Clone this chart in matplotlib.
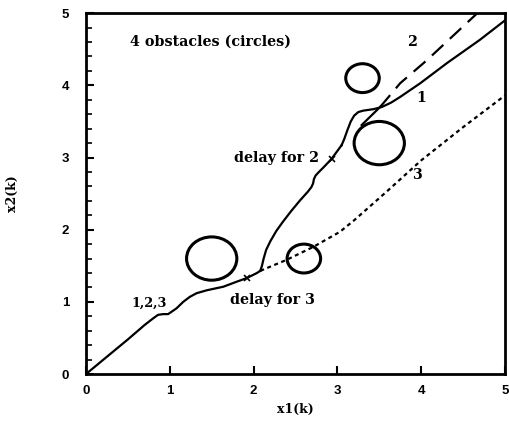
import matplotlib
matplotlib.use("Agg")
import matplotlib.pyplot as plt
import numpy as np
from matplotlib.patches import Circle

# common path 1,2,3
common_x = [0.0, 0.50, 0.70, 0.80, 0.86, 0.92, 0.98, 1.08, 1.16, 1.24, 1.32, 1.44,
            1.64, 1.80, 1.92, 2.04, 2.08]
common_y = [0.0, 0.48, 0.68, 0.77, 0.82, 0.83, 0.83, 0.91, 1.00, 1.07, 1.12, 1.16,
            1.21, 1.28, 1.33, 1.40, 1.43]

# path 1 and 2 shared branch up to delay for 2
up_x = [2.08, 2.10, 2.12, 2.15, 2.20, 2.27, 2.35, 2.45, 2.55, 2.65, 2.69, 2.71,
        2.72, 2.74, 2.78, 2.84, 2.93, 3.05]
up_y = [1.43, 1.50, 1.60, 1.72, 1.84, 1.98, 2.11, 2.26, 2.40, 2.53, 2.59, 2.64,
        2.70, 2.75, 2.80, 2.87, 2.98, 3.17]

# path 1 (solid, with loop)
p1_x = [3.05, 3.08, 3.12, 3.16, 3.20, 3.25, 3.31, 3.43, 3.53, 3.64, 3.75, 3.99,
        4.31, 4.70, 5.0]
p1_y = [3.17, 3.25, 3.38, 3.50, 3.58, 3.63, 3.65, 3.67, 3.70, 3.76, 3.84, 4.03,
        4.31, 4.63, 4.90]

# path 2 (solid segment then dashed)
p2s_x = [3.29, 3.51]
p2s_y = [3.45, 3.70]
p2d_x = [3.51, 3.75, 4.07, 4.67]
p2d_y = [3.70, 4.03, 4.35, 5.00]

# path 3 (dotted)
p3_x = [2.08, 2.39, 2.71, 3.03, 3.20, 3.60, 4.00, 4.50, 5.00]
p3_y = [1.43, 1.58, 1.76, 1.97, 2.13, 2.54, 2.96, 3.42, 3.86]

# delay points
delay_x = [1.92, 2.93]
delay_y = [1.33, 2.98]

# obstacles
obs_x = [1.5, 2.6, 3.3, 3.5]
obs_y = [1.6, 1.6, 4.1, 3.2]
obs_r = [0.3, 0.2, 0.2, 0.3]

fig = plt.figure(figsize=(5.09, 4.23), dpi=100)
ax = fig.add_axes([0.169, 0.1158, 0.823, 0.853])

lw = 1.6
for xs, ys in [(common_x, common_y), (up_x, up_y), (p1_x, p1_y), (p2s_x, p2s_y)]:
    ax.plot(xs, ys, color='black', lw=lw, solid_joinstyle='round')
ax.plot(p2d_x, p2d_y, color='black', lw=lw, dashes=(7, 4))
ax.plot(p3_x, p3_y, color='black', lw=lw, dashes=(1.8, 1.6))
ax.plot(delay_x, delay_y, 'x', color='black', ms=4, mew=1.2)

for cx, cy, r in zip(obs_x, obs_y, obs_r):
    ax.add_patch(Circle((cx, cy), r, fill=False, lw=2.2, ec='black'))

ax.set_xlim(0, 5)
ax.set_ylim(0, 5)

tf = dict(family='DejaVu Serif', weight='bold', fontsize=10.3)
ax.text(0.52, 4.6, '4 obstacles (circles)', va='center', ha='left', **tf)
ax.text(3.89, 4.6, '2', va='center', ha='center', **tf)
ax.text(4.0, 3.82, '1', va='center', ha='center', **tf)
ax.text(3.95, 2.76, '3', va='center', ha='center', **tf)
ax.text(2.78, 3.0, 'delay for 2', va='center', ha='right', **tf)
ax.text(1.72, 1.02, 'delay for 3', va='center', ha='left', **tf)
ax.text(0.54, 0.98, '1,2,3', va='center', ha='left',
        family='DejaVu Serif', weight='bold', fontsize=9.2)

ax.set_xticks([0, 1, 2, 3, 4, 5])
ax.set_yticks([0, 1, 2, 3, 4, 5])
ax.set_yticks(np.arange(0, 5.01, 0.2), minor=True)
ax.tick_params(axis='both', which='major', direction='in', length=6, width=1.5,
               labelsize=9.5, pad=8)
ax.tick_params(axis='y', which='minor', direction='in', length=4, width=1.2)
for lab in ax.get_xticklabels() + ax.get_yticklabels():
    lab.set_fontweight('bold')
    lab.set_family('Liberation Sans')
ax.tick_params(axis='y', pad=12)

for s in ax.spines.values():
    s.set_linewidth(2)

ax.set_xlabel('x1(k)', family='DejaVu Serif', weight='bold', fontsize=9, labelpad=4)
ax.set_ylabel('x2(k)', family='DejaVu Serif', weight='bold', fontsize=9, labelpad=31)

fig.savefig('out.png', dpi=100)
